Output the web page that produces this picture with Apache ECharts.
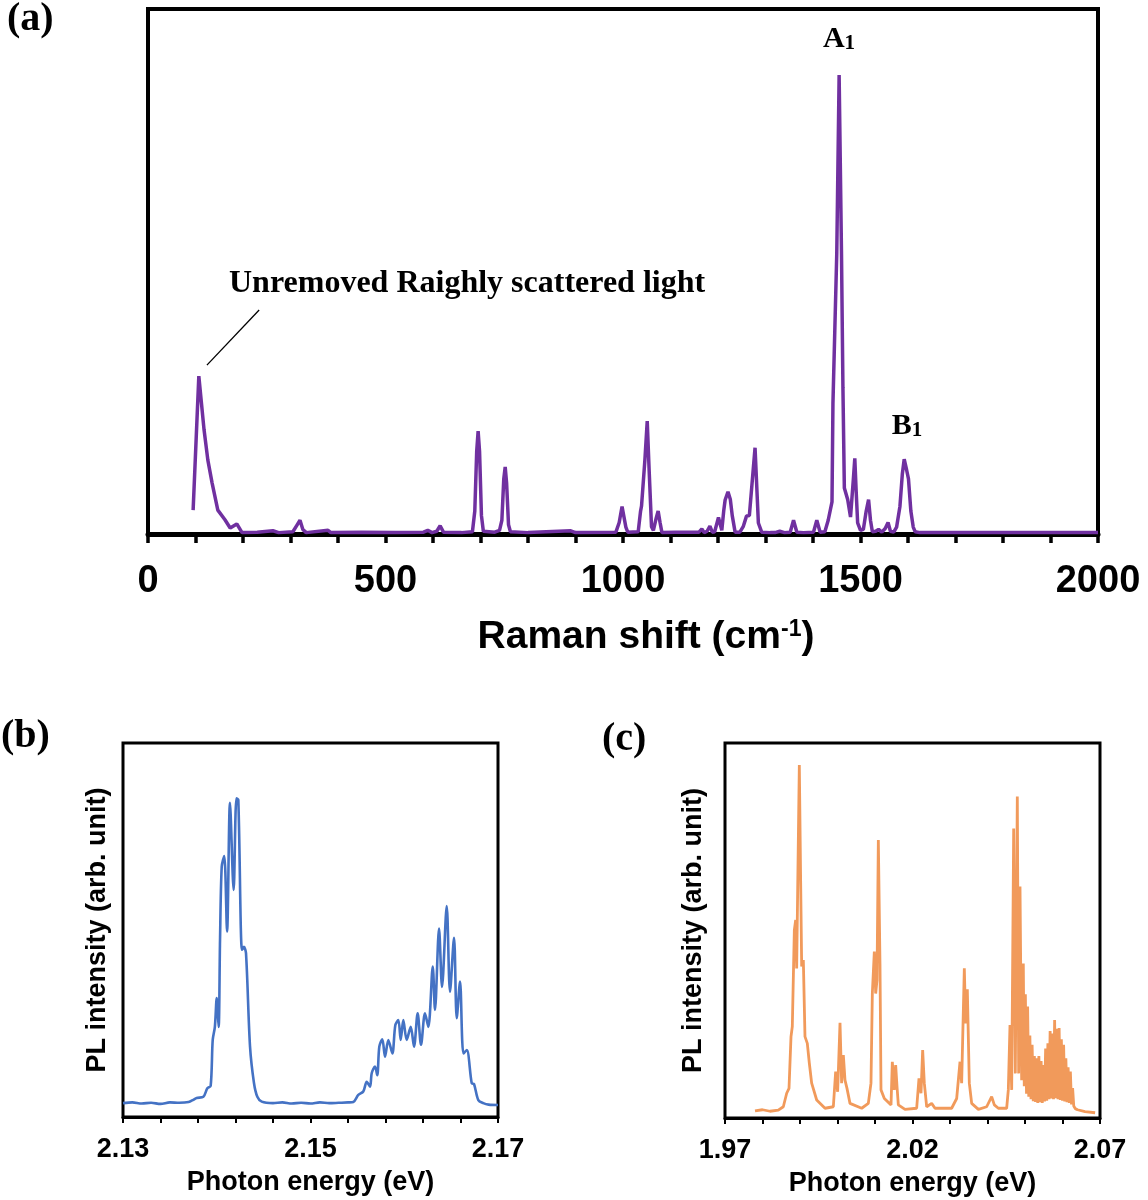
<!DOCTYPE html>
<html>
<head>
<meta charset="utf-8">
<title>Raman and PL spectra</title>
<script src="https://cdn.jsdelivr.net/npm/echarts@6/dist/echarts.min.js"></script>
<style>
  html, body { margin: 0; padding: 0; background: #fff; }
  #chart { width: 1148px; height: 1200px; }
</style>
</head>
<body>
<div id="chart"></div>
<script>
// (a) Raman spectrum: shift in cm-1, intensity normalised to the A1 line = 100
const ramanShift = [95,107,118,126,135,147,162,173,187,198,230,263,275,305,314,320,326,333,379,385,450,520,580,589,598,608,615,622,660,683,688,692,695,698,702,706,730,740,745,749,752,755,759,763,800,890,900,985,992,998,1001,1006,1010,1032,1037,1039,1043,1046,1051,1055,1060,1064,1070,1074,1078,1082,1110,1160,1166,1171,1177,1183,1188,1193,1201,1208,1212,1215,1221,1226,1230,1236,1246,1253,1260,1266,1278,1285,1292,1310,1314,1320,1330,1340,1352,1359,1366,1380,1401,1408,1415,1425,1432,1440,1442,1450,1455,1460,1463,1466,1473,1479,1485,1488,1491,1494,1500,1506,1512,1517,1521,1525,1532,1538,1545,1552,1558,1563,1570,1576,1583,1588,1592,1597,1601,1606,1611,1615,1625,1700,1800,1900,2000];
const ramanIntensity = [5.2,34.4,22.7,16.1,11.1,5.2,3.1,1.3,2.2,0.3,0.4,0.7,0.3,0.5,2.0,3.0,1.0,0.3,0.8,0.3,0.4,0.3,0.4,0.8,0.3,0.6,1.8,0.4,0.3,0.5,5,18,22.4,18,4,0.6,0.4,0.8,3,12,14.6,11,2,0.5,0.3,0.7,0.3,0.4,2.5,6.0,6.3,1.5,0.4,0.5,5.0,6.1,6.2,16,24.6,14,1.6,0.8,3.5,5.0,2.5,0.3,0.4,0.4,1.1,0.3,0.6,1.7,0.4,0.5,3.6,0.8,5.0,7.4,9.2,7.5,4.0,0.4,0.4,1.6,3.9,4.0,18.8,2.4,0.4,0.3,0.7,0.3,0.6,0.3,0.4,3.0,0.4,0.3,0.4,3.0,0.4,0.5,3.0,7.0,28.5,61,100,61,32,10,7.5,3.7,12,16.5,9,2.4,0.8,1,5,7.5,3,0.5,0.6,1.0,0.4,1.2,2.5,0.6,0.4,1.5,6,13,16.3,14,12,5,1.5,0.5,0.3,0.3,0.35,0.3,0.3];
const ramanTicks = [0,100,200,300,400,500,600,700,800,900,1000,1100,1200,1300,1400,1500,1600,1700,1800,1900,2000];
const ramanTickLabels = [0,500,1000,1500,2000];

// (b) PL spectrum, photon energy in eV
const plEnergyB = [2.1300,2.1310,2.1320,2.1330,2.1340,2.1350,2.1360,2.1370,2.1375,2.13786,2.13857,2.1390,2.13935,2.13957,2.1398,2.1400,2.1402,2.14035,2.14053,2.1408,2.1411,2.14141,2.1418,2.1421,2.1423,2.14269,2.1429,2.14312,2.14355,2.14397,2.14433,2.1448,2.1460,2.1470,2.1480,2.1490,2.1500,2.1510,2.1520,2.1530,2.1540,2.15457,2.1551,2.15563,2.1560,2.15635,2.15653,2.15688,2.15712,2.15734,2.15766,2.15795,2.1583,2.15873,2.15905,2.15937,2.15962,2.1599,2.16026,2.16069,2.16104,2.16143,2.16179,2.16221,2.16257,2.16304,2.16328,2.16371,2.16403,2.16453,2.16488,2.16531,2.1656,2.16595,2.16631,2.16667,2.1672,2.16744,2.1679,2.16843,2.1690,2.1700];
const plIntensityB = [3.7,3.9,3.6,3.8,3.5,3.9,3.8,4.0,4.6,5.1,5.4,7.7,8.3,20.6,24.1,31.8,24.1,47.3,66.9,69.8,49.6,84.0,60.7,85.2,84.8,44.7,45.5,43.8,18.8,9.1,5.4,4.1,3.7,3.9,3.6,3.8,3.6,3.9,3.7,3.8,3.9,4.0,5.9,6.8,9.4,8.1,11.7,13.5,11.2,18.8,20.8,16.1,20.6,17.0,24.6,25.9,20.6,25.9,20.6,24.1,18.8,27.7,19.3,27.7,24.1,40.2,28.6,50.4,34.8,56.4,33.5,47.9,26.4,36.2,17.0,17.9,9.0,8.8,4.5,3.7,3.3,3.2];
const plTicksB = [2.130,2.134,2.138,2.142,2.146,2.150,2.154,2.158,2.162,2.166,2.170];
const plLabelsB = [2.13,2.15,2.17];

// (c) PL spectrum, photon energy in eV
const plEnergyC = [1.9780,1.9800,1.9820,1.98422,1.98555,1.98645,1.98707,1.9876,1.98795,1.98849,1.98885,1.98911,1.98938,1.98982,1.99018,1.99045,1.99089,1.99133,1.99195,1.99249,1.99311,1.99445,1.99667,1.99889,1.99951,2.00004,2.00067,2.0011,2.00156,2.0020,2.00253,2.00333,2.00645,2.00822,2.00893,2.00929,2.00982,2.01018,2.01053,2.01089,2.01133,2.0116,2.01249,2.01427,2.01462,2.01515,2.01551,2.01587,2.01622,2.0180,2.02111,2.02173,2.02227,2.02271,2.02315,2.02378,2.02511,2.0260,2.03044,2.03178,2.03267,2.03311,2.03382,2.03418,2.03462,2.03515,2.03578,2.03756,2.03978,2.04111,2.04182,2.04289,2.04511,2.04555,2.0460,2.04645,2.04698,2.04742,2.04795,2.04831,2.04867,2.04911,2.04955,2.0498,2.0501,2.0504,2.0507,2.0510,2.0513,2.0516,2.0519,2.0522,2.0525,2.0528,2.0531,2.0534,2.0537,2.0540,2.0543,2.0546,2.0549,2.0552,2.0555,2.0558,2.0561,2.0564,2.0567,2.0570,2.0573,2.0576,2.0579,2.0582,2.0585,2.0588,2.0591,2.0594,2.0597,2.0600,2.0603,2.0606,2.0609,2.0612,2.0615,2.0618,2.0621,2.0624,2.0627,2.0630,2.0634,2.0640,2.0660,2.0687];
const plIntensityC = [1.9,2.2,1.8,2.1,3.0,6.6,7.9,21.7,24.4,50.1,52.8,39.9,60.8,94.1,62.6,40.4,42.1,21.7,19.9,14.6,9.3,4.8,2.6,3.0,12.4,7.0,25.4,9.3,16.8,10.1,7.9,3.9,2.6,3.9,9.3,33.2,44.4,33.2,36.8,74.1,41.2,7.5,5.2,3.5,15.0,7.5,14.1,8.4,3.5,2.3,2.6,10.6,6.6,18.1,9.3,3.0,3.9,2.6,2.6,5.2,15.0,9.3,39.9,25.2,34.3,9.3,3.9,2.3,3.0,5.7,3.5,2.6,2.6,7.5,24.8,7.5,77.2,11.9,85.7,11.9,61.7,10.1,41.2,8.5,33,6.5,29.7,5.7,22,5.0,19.5,4.5,16.5,4.3,15.9,4.0,16.5,4.2,15.2,4.0,14.1,4.4,18.5,4.6,19.9,5.0,23.2,5.2,22.5,5.0,26.1,5.3,23.8,5.0,24.0,4.8,21.0,4.6,19.5,4.4,15.9,4.2,13.5,4.0,12.4,3.6,8.0,3.2,2.5,2.2,1.7,1.4];
const plTicksC = [1.97,1.98,1.99,2.00,2.01,2.02,2.03,2.04,2.05,2.06,2.07];
const plLabelsC = [1.97,2.02,2.07];

const pairs = (xs, ys) => xs.map((x, i) => [x, ys[i]]);

const INK = '#000';
const SANS = '"Liberation Sans", Arial, sans-serif';
const SERIF = '"Liberation Serif", "Times New Roman", serif';

function energyAxis(gridIndex, min, max, ticks, labels) {
  return {
    gridIndex, type: 'value', min, max,
    axisLine: { show: true, onZero: false, lineStyle: { color: INK, width: 3 } },
    axisTick: { show: true, customValues: ticks, length: 6, lineStyle: { color: INK, width: 2 } },
    axisLabel: {
      show: true, customValues: labels, formatter: v => v.toFixed(2),
      margin: 19, fontSize: 27, fontWeight: 'bold', fontFamily: SANS, color: INK
    },
    splitLine: { show: false },
    name: 'Photon energy (eV)', nameLocation: 'middle', nameGap: 52,
    nameTextStyle: { fontSize: 27, fontWeight: 'bold', fontFamily: SANS, color: INK }
  };
}

function intensityAxis(gridIndex, max, gap) {
  return {
    gridIndex, type: 'value', min: 0, max,
    axisLine: { show: false }, axisTick: { show: false }, axisLabel: { show: false },
    splitLine: { show: false },
    name: 'PL intensity (arb. unit)', nameLocation: 'middle', nameRotate: 90, nameGap: gap,
    nameTextStyle: { fontSize: 27, fontWeight: 'bold', fontFamily: SANS, color: INK }
  };
}

const chart = echarts.init(document.getElementById('chart'));

chart.setOption({
  animation: false,
  backgroundColor: '#fff',
  grid: [
    { left: 148, top: 9, width: 950, height: 525, show: true, borderColor: INK, borderWidth: 4 },
    { left: 123, top: 743, width: 375, height: 374, show: true, borderColor: INK, borderWidth: 3 },
    { left: 725, top: 743, width: 375, height: 375, show: true, borderColor: INK, borderWidth: 3 }
  ],
  xAxis: [
    {
      gridIndex: 0, type: 'value', min: 0, max: 2000,
      axisLine: { show: true, onZero: false, lineStyle: { color: INK, width: 5 } },
      axisTick: { show: true, customValues: ramanTicks, length: 9, lineStyle: { color: INK, width: 3.5 } },
      axisLabel: {
        show: true, customValues: ramanTickLabels, formatter: v => String(v),
        margin: 29, fontSize: 38, fontWeight: 'bold', fontFamily: SANS, color: INK
      },
      splitLine: { show: false },
      name: '{t|Raman shift (cm}{s|-1}{t|)}', nameLocation: 'middle', nameGap: 84,
      nameTextStyle: {
        padding: [0, 0, 0, 46],
        rich: {
          t: { fontSize: 39, fontWeight: 'bold', fontFamily: SANS, color: INK },
          s: { fontSize: 23, fontWeight: 'bold', fontFamily: SANS, color: INK, verticalAlign: 'top' }
        }
      }
    },
    energyAxis(1, 2.13, 2.17, plTicksB, plLabelsB),
    energyAxis(2, 1.97, 2.07, plTicksC, plLabelsC)
  ],
  yAxis: [
    { gridIndex: 0, type: 'value', min: 0, max: 114.4, show: false },
    intensityAxis(1, 100, 12),
    intensityAxis(2, 100, 18)
  ],
  series: [
    {
      type: 'line', xAxisIndex: 0, yAxisIndex: 0,
      data: pairs(ramanShift, ramanIntensity),
      showSymbol: false, lineStyle: { color: '#7030a0', width: 3.5 },
      markLine: {
        silent: true, symbol: 'none', label: { show: false },
        lineStyle: { color: INK, width: 1.3, type: 'solid' },
        data: [[{ coord: [124, 36.8] }, { coord: [234, 48.8] }]]
      }
    },
    {
      type: 'line', xAxisIndex: 1, yAxisIndex: 1,
      data: pairs(plEnergyB, plIntensityB),
      showSymbol: false, smooth: 0.3, lineStyle: { color: '#4472c4', width: 2.6 }
    },
    {
      type: 'line', xAxisIndex: 2, yAxisIndex: 2,
      data: pairs(plEnergyC, plIntensityC),
      showSymbol: false, lineStyle: { color: '#f19a5b', width: 2.8 }
    }
  ],
  graphic: [
    { type: 'text', left: 7, top: 0, style: { text: '(a)', fontSize: 40, fontWeight: 'bold', fontFamily: SERIF, fill: INK } },
    { type: 'text', left: 1, top: 717, style: { text: '(b)', fontSize: 40, fontWeight: 'bold', fontFamily: SERIF, fill: INK } },
    { type: 'text', left: 602, top: 720, style: { text: '(c)', fontSize: 40, fontWeight: 'bold', fontFamily: SERIF, fill: INK } },
    {
      type: 'text', x: 229, y: 284,
      style: { text: 'Unremoved Raighly scattered light', fontSize: 32, fontWeight: 'bold', fontFamily: SERIF, fill: INK, verticalAlign: 'middle' }
    },
    {
      type: 'text', x: 839, y: 39,
      style: {
        text: '{a|A}{s|1}', align: 'center', verticalAlign: 'middle',
        rich: {
          a: { fontSize: 30, fontWeight: 'bold', fontFamily: SERIF, fill: INK, verticalAlign: 'bottom' },
          s: { fontSize: 21, fontWeight: 'bold', fontFamily: SERIF, fill: INK, verticalAlign: 'bottom' }
        }
      }
    },
    {
      type: 'text', x: 907, y: 426,
      style: {
        text: '{a|B}{s|1}', align: 'center', verticalAlign: 'middle',
        rich: {
          a: { fontSize: 30, fontWeight: 'bold', fontFamily: SERIF, fill: INK, verticalAlign: 'bottom' },
          s: { fontSize: 21, fontWeight: 'bold', fontFamily: SERIF, fill: INK, verticalAlign: 'bottom' }
        }
      }
    }
  ]
});
</script>
</body>
</html>
